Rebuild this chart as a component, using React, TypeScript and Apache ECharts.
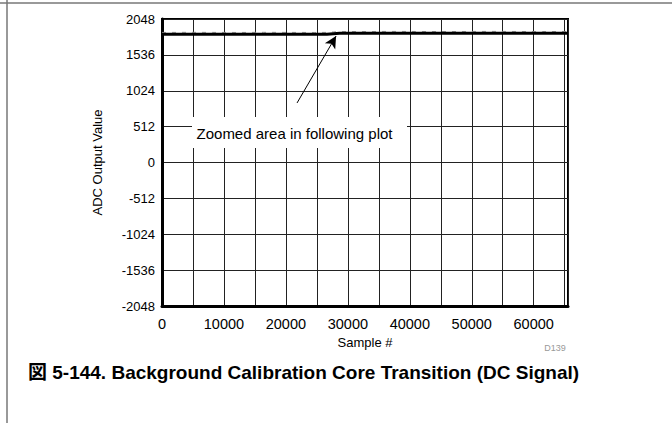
import React, { useEffect, useRef } from "react";
import * as echarts from "echarts";

const sampleIdx = [0, 4096, 8192, 12288, 16384, 20480, 24576, 26624, 27648, 28672, 32768, 36864, 40960, 45056, 49152, 53248, 57344, 61440, 65536];
const adcValues = [1830, 1831, 1830, 1829, 1830, 1831, 1830, 1830, 1838, 1844, 1844, 1845, 1844, 1843, 1844, 1845, 1844, 1844, 1844];
const noisePeaks = [1856, 1858, 1857, 1856, 1858, 1857, 1856, 1857, 1864, 1870, 1869, 1871, 1870, 1869, 1870, 1871, 1870, 1869, 1870];
const xTickLabels = [0, 10000, 20000, 30000, 40000, 50000, 60000];
const yTickLabels = [-2048, -1536, -1024, -512, 0, 512, 1024, 1536, 2048];
const arrowFrom = [21800, 850];
const arrowTo = [28100, 1805];
const annotationText = "Zoomed area in following plot";
const captionText = "図 5-144. Background Calibration Core Transition (DC Signal)";

const FONT = "'Liberation Sans', Arial, 'Noto Sans CJK JP', sans-serif";

export default function App() {
  const ref = useRef<HTMLDivElement>(null);
  useEffect(() => {
    document.body.style.margin = "0";
    if (!ref.current) return;
    const chart = echarts.init(ref.current, null, { renderer: "svg" });
    const line = sampleIdx.map((s, i) => [s, adcValues[i]]);
    const peaks = sampleIdx.map((s, i) => [s, noisePeaks[i]]);
    chart.setOption({
      animation: false,
      backgroundColor: "#fff",
      textStyle: { fontFamily: FONT },
      grid: {
        left: 162,
        right: 104,
        top: 19,
        bottom: 117,
        show: true,
        borderColor: "#000",
        borderWidth: 2,
        backgroundColor: "transparent",
      },
      xAxis: {
        type: "value",
        min: 0,
        max: 65536,
        interval: 5000,
        name: "Sample #",
        nameLocation: "middle",
        nameGap: 28,
        nameTextStyle: { fontSize: 13, color: "#000", fontFamily: FONT },
        axisLine: { show: true, onZero: false, lineStyle: { color: "#000", width: 3 } },
        axisTick: { show: false },
        axisLabel: {
          margin: 11,
          fontSize: 14.5,
          color: "#000",
          fontFamily: FONT,
          showMaxLabel: false,
          formatter: (v: number) => (xTickLabels.indexOf(v) >= 0 ? String(v) : ""),
        },
        splitLine: { show: true, lineStyle: { color: "#222", width: 1 } },
      },
      yAxis: {
        type: "value",
        min: -2048,
        max: 2048,
        interval: 512,
        name: "ADC Output Value",
        nameLocation: "middle",
        nameGap: 58,
        nameTextStyle: { fontSize: 13, color: "#000", fontFamily: FONT },
        axisLine: { show: true, onZero: false, lineStyle: { color: "#000", width: 3 } },
        axisTick: { show: false },
        axisLabel: {
          margin: 7,
          fontSize: 13,
          color: "#000",
          fontFamily: FONT,
          formatter: (v: number) => (yTickLabels.indexOf(v) >= 0 ? String(v) : ""),
        },
        splitLine: { show: true, lineStyle: { color: "#222", width: 1 } },
      },
      series: [
        {
          type: "line",
          data: peaks,
          showSymbol: false,
          lineStyle: { color: "#999", width: 1, type: [4, 6] },
          z: 2,
        },
        {
          type: "line",
          data: line,
          showSymbol: false,
          lineStyle: { color: "#000", width: 3 },
          z: 3,
          markLine: {
            silent: true,
            symbol: ["none", "arrow"],
            symbolSize: [9, 12],
            label: { show: false },
            lineStyle: { color: "#000", width: 1, type: "solid" },
            data: [[{ coord: arrowFrom }, { coord: arrowTo }]],
          },
        },
      ],
      graphic: [
        {
          type: "line",
          shape: { x1: 0, y1: 3, x2: 672, y2: 3 },
          style: { stroke: "#777", lineWidth: 1.5 },
          z: 100,
        },
        {
          type: "line",
          shape: { x1: 7, y1: 0, x2: 7, y2: 423 },
          style: { stroke: "#777", lineWidth: 1.5 },
          z: 100,
        },
        {
          type: "rect",
          shape: { x: 192, y: 117, width: 215, height: 31 },
          style: { fill: "#fff" },
          z: 100,
        },
        {
          type: "text",
          x: 294.5,
          y: 133,
          style: {
            text: annotationText,
            fontSize: 15,
            fontFamily: FONT,
            fill: "#000",
            align: "center",
            verticalAlign: "middle",
          },
          z: 101,
        },
        {
          type: "text",
          x: 555,
          y: 348,
          style: {
            text: "D139",
            fontSize: 9,
            fontFamily: FONT,
            fill: "#999",
            align: "center",
            verticalAlign: "middle",
          },
          z: 101,
        },
        {
          type: "text",
          x: 28,
          y: 372,
          style: {
            text: captionText,
            fontSize: 19,
            fontWeight: "bold",
            fontFamily: FONT,
            fill: "#000",
            align: "left",
            verticalAlign: "middle",
          },
          z: 101,
        },
      ],
    });
    return () => chart.dispose();
  }, []);
  return <div ref={ref} style={{ width: 672, height: 423 }} />;
}
